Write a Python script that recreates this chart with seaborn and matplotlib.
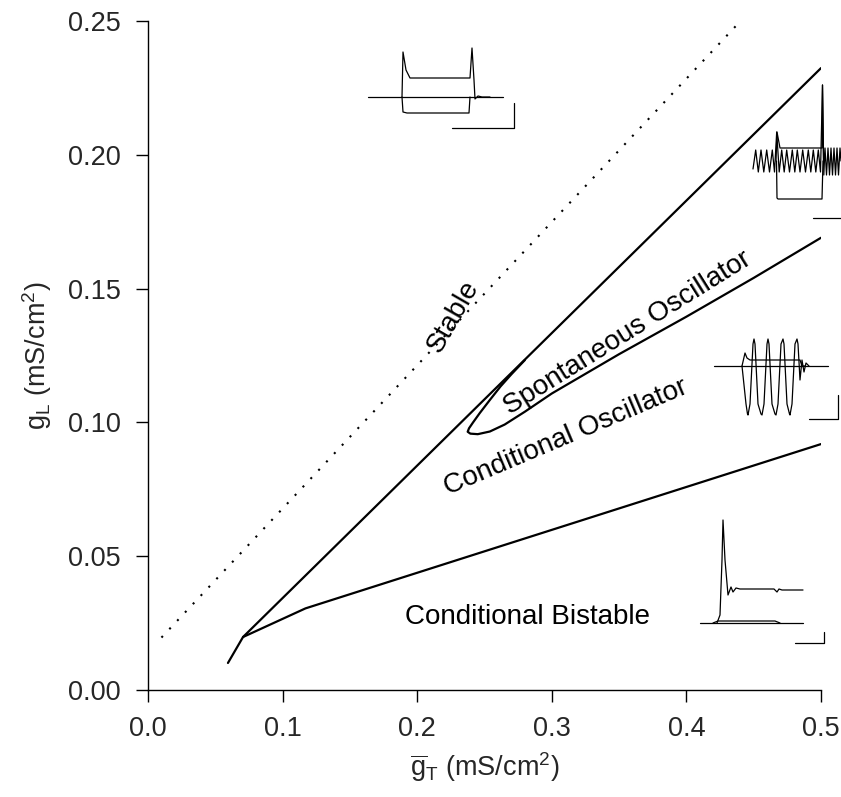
import numpy as np
import pandas as pd
import matplotlib
matplotlib.use("Agg")
import matplotlib.pyplot as plt
import seaborn as sns

# --- boundary curves in the (gT, gL) plane, mS/cm^2 ---
stable_gT = [0.01, 0.438]
stable_gL = [0.0196, 0.2488]

upper_gT = [0.0594, 0.0706, 0.5]
upper_gL = [0.0101, 0.0198, 0.2324]

lower_gT = [0.0706, 0.117, 0.5]
lower_gL = [0.0198, 0.0305, 0.0919]

loop_gT = [0.28, 0.27, 0.262, 0.254, 0.2465, 0.2415, 0.2385, 0.2375, 0.2395,
           0.245, 0.254, 0.265, 0.28, 0.30, 0.35, 0.40, 0.45, 0.5]
loop_gL = [0.1233, 0.1180, 0.1135, 0.1084, 0.1035, 0.1000, 0.0978, 0.0965, 0.0958,
           0.0956, 0.0966, 0.0992, 0.1040, 0.1108, 0.1255, 0.1395, 0.1540, 0.169]

# --- region labels ---
label_text = ["Stable", "Spontaneous Oscillator", "Conditional Oscillator", "Conditional Bistable"]
label_gT = [0.2266, 0.3566, 0.3105, 0.2816]
label_gL = [0.1394, 0.1334, 0.0945, 0.0273]
label_rot = [60, 32, 23, 0]

x_ticks = [0.0, 0.1, 0.2, 0.3, 0.4, 0.5]
y_ticks = [0.00, 0.05, 0.10, 0.15, 0.20, 0.25]

# --- inset voltage traces (time ms, potential mV relative) ---
# stable
st_base_t = [8, 143]
st_base_v = [-60, -60]
st_up_t = [42, 43, 46, 50, 110, 112, 114, 115, 118, 122, 130]
st_up_v = [-60, -15, -33, -41, -41, -11, -43, -62, -59, -60, -60]
st_dn_t = [42, 43, 47, 109, 110]
st_dn_v = [-60, -75, -76, -76, -60]
st_bar_t = [92, 154, 154]
st_bar_v = [-91, -91, -66]

# spontaneous oscillator
sp_osc_t = [8, 10.7, 13.3, 16, 18.8, 21.7, 24.5, 27.3, 29.5, 31.7, 34.2, 36.7, 39.2, 41.7,
            44.5, 47.3, 49.8, 52.3, 55, 57.7, 60.5, 63.3, 65.8, 68.3, 70.8, 73.3, 75.5, 77.5,
            78.8, 80, 81.5, 83, 84.5, 86, 87.5, 89, 90.5, 92, 93.5, 95, 96]
sp_osc_v = [-8, 11, -11, 11, -11, 11, -11, 11, -11, 29, -11, 11, -11, 11,
            -11, 11, -11, 11, -11, 11, -11, 11, -11, 11, -11, 11, -11, 76,
            -14, 13, -14, 13, -14, 13, -14, 13, -14, 13, -14, 13, 0]
sp_up_t = [31, 32, 35, 77, 77.5, 78.5]
sp_up_v = [0, 29, 13, 13, 76, 0]
sp_dn_t = [31.5, 32, 33, 77, 78]
sp_dn_v = [0, -37, -38, -38, 0]
sp_bar_t = [68, 96]
sp_bar_v = [-57, -57]

# conditional oscillator
co_base_t = [9, 123]
co_base_v = [0, 0]
co_up_t = [37, 40, 42, 45, 95, 97, 100]
co_up_v = [0, 13, 8, 6, 6, 0, 0]
co_osc_t = [37, 41, 42.5, 43, 45, 48, 49, 50, 53, 56, 57, 59, 62, 63, 64, 67, 70, 71,
            73, 76, 78, 79, 82, 84.5, 85, 87, 90, 92, 93, 95, 97, 99, 101, 104]
co_osc_v = [0, -38, -48, -49, -38, 22, 27, 22, -38, -48, -49, -38, 22, 27, 22, -38, -48, -49,
            -38, 22, 27, 22, -38, -48, -49, -38, 22, 27, 22, -14, 6, -6, 3, 0]
co_bar_t = [104, 133, 133]
co_bar_v = [-53, -53, -29]

# conditional bistable
cb_base_t = [5, 108]
cb_base_v = [0, 0]
cb_up_t = [22, 25, 27, 28, 30, 33, 36, 38, 41, 45, 79, 82, 84, 87, 108]
cb_up_v = [0, 8, 63, 103, 63, 28, 36, 31, 35, 34, 34, 31, 34, 33, 33]
cb_dn_t = [18, 23, 80, 85]
cb_dn_v = [0, 2, 2, 0]
cb_bar_t = [100, 129, 129]
cb_bar_v = [-20, -20, -9]

sns.set_theme(style="ticks")
plt.rcParams['font.family'] = ['Liberation Sans', 'DejaVu Sans']
plt.rcParams['mathtext.fontset'] = 'custom'
plt.rcParams['mathtext.rm'] = 'Liberation Sans'
plt.rcParams['mathtext.it'] = 'Liberation Sans'

W, H = 841, 797
fig = plt.figure(figsize=(W / 100, H / 100), dpi=100)
ax = fig.add_axes([148 / W, 1 - 690 / H, (821 - 148) / W, (690 - 21) / H])

lw = 1.6
sns.lineplot(x=stable_gT, y=stable_gL, ax=ax, color='black', lw=1.5,
             linestyle=(0, (1, 4.5)), estimator=None, sort=False)
sns.lineplot(x=upper_gT, y=upper_gL, ax=ax, color='black', lw=lw, estimator=None, sort=False)
sns.lineplot(x=lower_gT, y=lower_gL, ax=ax, color='black', lw=lw, estimator=None, sort=False)
sns.lineplot(x=loop_gT, y=loop_gL, ax=ax, color='black', lw=lw, estimator=None, sort=False)

for txt, gx, gy, rot in zip(label_text, label_gT, label_gL, label_rot):
    ax.text(gx, gy, txt, rotation=rot, rotation_mode='anchor', ha='center', va='center',
            fontsize=20, color='black')

ax.set_xlim(0, 0.5)
ax.set_ylim(0, 0.25)
ax.set_xticks(x_ticks)
ax.set_yticks(y_ticks)
ax.set_xticklabels([f"{v:.1f}" for v in x_ticks])
ax.set_yticklabels([f"{v:.2f}" for v in y_ticks])
ax.tick_params(direction='out', length=8.6, width=1, labelsize=19.5, color='black')
ax.tick_params(axis='x', pad=10)
ax.tick_params(axis='y', pad=11)
for s in ['left', 'bottom']:
    ax.spines[s].set_linewidth(1)
    ax.spines[s].set_color('black')
sns.despine(ax=ax)
ax.set_xlabel(r'$\overline{\mathrm{g}}_\mathrm{T}$ (mS/cm$^2$)', fontsize=19.5, labelpad=6)
ax.set_ylabel(r'g$_\mathrm{L}$ (mS/cm$^2$)', fontsize=19.5, labelpad=10)


def inset(x0, y0, x1, y1, tlim, vlim):
    a = fig.add_axes([x0 / W, 1 - y1 / H, (x1 - x0) / W, (y1 - y0) / H])
    a.set_xlim(*tlim)
    a.set_ylim(*vlim)
    a.axis('off')
    return a


tr = dict(color='black', lw=0.9)
a1 = inset(360, 40, 520, 135, (0, 160), (-98, -3))
for t, v in [(st_base_t, st_base_v), (st_up_t, st_up_v), (st_dn_t, st_dn_v), (st_bar_t, st_bar_v)]:
    a1.plot(t, v, **tr)

a2 = inset(745, 80, 841, 225, (0, 96), (-64, 81))
for t, v in [(sp_osc_t, sp_osc_v), (sp_up_t, sp_up_v), (sp_dn_t, sp_dn_v), (sp_bar_t, sp_bar_v)]:
    a2.plot(t, v, **tr)

a3 = inset(705, 330, 841, 425, (0, 136), (-59, 36))
for t, v in [(co_base_t, co_base_v), (co_up_t, co_up_v), (co_osc_t, co_osc_v), (co_bar_t, co_bar_v)]:
    a3.plot(t, v, **tr)

a4 = inset(695, 510, 830, 650, (0, 135), (-27, 113))
for t, v in [(cb_base_t, cb_base_v), (cb_up_t, cb_up_v), (cb_dn_t, cb_dn_v), (cb_bar_t, cb_bar_v)]:
    a4.plot(t, v, **tr)

fig.savefig("out.png", dpi=100)
